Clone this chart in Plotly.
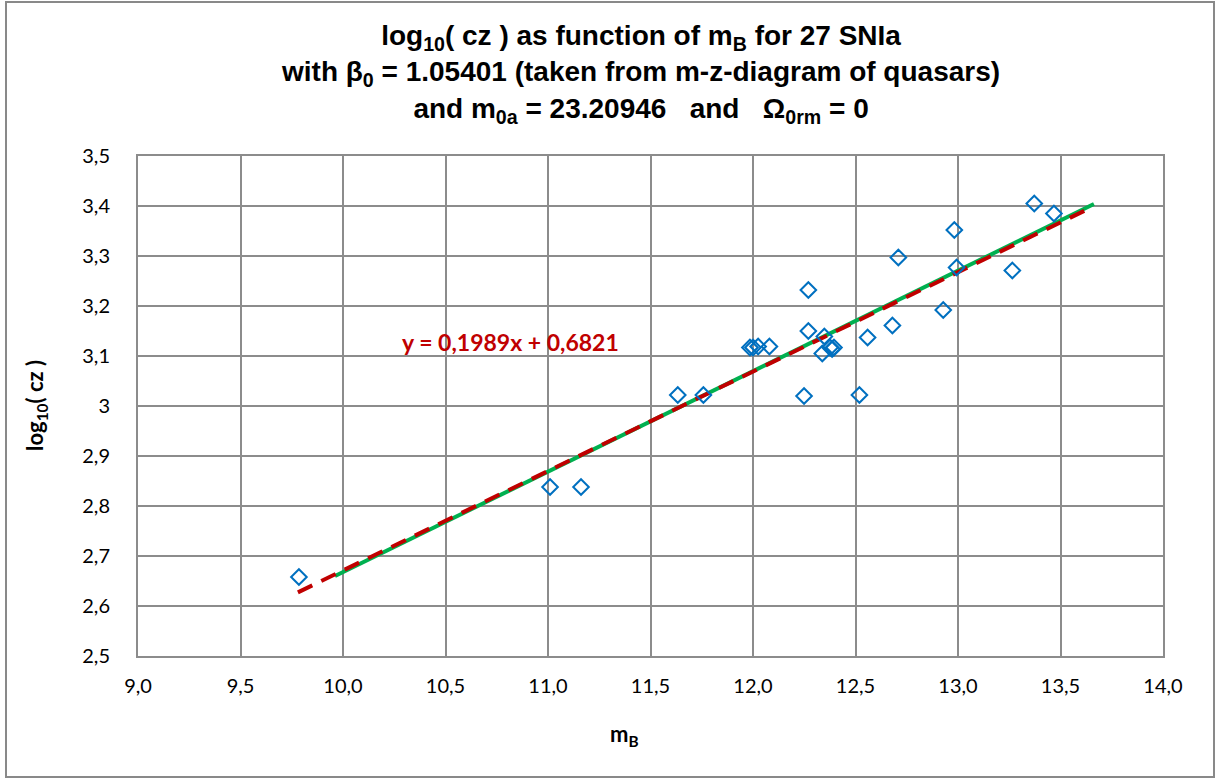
import plotly.graph_objects as go

# ---- data ----
mB = [9.785, 11.010, 11.161, 11.633, 11.758, 11.985, 12.000, 12.025, 12.080,
      12.249, 12.270, 12.270, 12.338, 12.348, 12.376, 12.386, 12.395, 12.519,
      12.559, 12.680, 12.709, 12.928, 12.982, 12.993, 13.265, 13.372, 13.468]
logcz = [2.658, 2.838, 2.838, 3.022, 3.022, 3.117, 3.117, 3.119, 3.119,
         3.020, 3.232, 3.150, 3.105, 3.139, 3.117, 3.114, 3.117, 3.022,
         3.137, 3.161, 3.297, 3.192, 3.352, 3.277, 3.271, 3.405, 3.385]

model_x = [9.961, 13.663]
model_y = [2.660, 3.404]

trend_slope = 0.1989
trend_intercept = 0.6821
trend_x = [9.78, 13.62]

x_ticks = [9.0, 9.5, 10.0, 10.5, 11.0, 11.5, 12.0, 12.5, 13.0, 13.5, 14.0]
y_ticks = [2.5, 2.6, 2.7, 2.8, 2.9, 3.0, 3.1, 3.2, 3.3, 3.4, 3.5]

trend_y = [trend_slope * v + trend_intercept for v in trend_x]

fig = go.Figure()
fig.add_trace(go.Scatter(x=model_x, y=model_y, mode="lines",
                         line=dict(color="#00B050", width=4), showlegend=False))
fig.add_trace(go.Scatter(x=trend_x, y=trend_y, mode="lines",
                         line=dict(color="#C00000", width=4, dash="16px,10px"),
                         showlegend=False))
fig.add_trace(go.Scatter(x=mB, y=logcz, mode="markers",
                         marker=dict(symbol="diamond-open", size=12, color="#0070C0",
                                     line=dict(width=2, color="#0070C0")),
                         showlegend=False))

tick_font = dict(family="Lato, Calibri, sans-serif", size=20, color="#000000")
grid_col = "#8C8C8C"

fig.update_xaxes(range=[9, 14], tickvals=x_ticks, tickformat=".1f",
                 showgrid=True, gridcolor=grid_col, gridwidth=2,
                 showline=True, linecolor=grid_col, linewidth=2, mirror=True,
                 zeroline=False, ticks="outside", ticklen=11, tickcolor="rgba(0,0,0,0)",
                 tickfont=tick_font)
fig.update_yaxes(range=[2.5, 3.5], tickvals=y_ticks,
                 showgrid=True, gridcolor=grid_col, gridwidth=2,
                 showline=True, linecolor=grid_col, linewidth=2, mirror=True,
                 zeroline=False, ticks="outside", ticklen=22, tickcolor="rgba(0,0,0,0)",
                 tickfont=tick_font)

title_text = ("<b>log<sub>10</sub>( cz ) as function of m<sub>B</sub> for 27 SNIa<br>"
              "with β<sub>0</sub> = 1.05401 (taken from m-z-diagram of quasars)<br>"
              "and m<sub>0a</sub> = 23.20946\u00a0\u00a0 and \u00a0\u00a0Ω<sub>0rm</sub> = 0</b>")

W, H = 1216, 780
L, R, T, B = 138, 53, 156, 124
pw, ph = W - L - R, H - T - B

def px(xp):
    return (xp - L) / pw

def py(yp):
    return (H - B - yp) / ph

fig.add_annotation(text=title_text, xref="paper", yref="paper",
                   x=px(640), y=py(18), xanchor="center", yanchor="top",
                   showarrow=False, align="center",
                   font=dict(family="Liberation Sans Narrow, Arial Narrow, Liberation Sans, sans-serif",
                             size=28, color="#000000"))
fig.add_annotation(text="<b>y = 0,1989x + 0,6821</b>", x=10.815, y=3.128,
                   xanchor="center", yanchor="middle", showarrow=False,
                   font=dict(family="Lato, Calibri, sans-serif", size=23, color="#C00000"))
fig.add_annotation(text="<b>log<sub>10</sub>( cz )</b>", xref="paper", yref="paper",
                   x=px(36), y=py(406), xanchor="center", yanchor="middle",
                   textangle=-90, showarrow=False,
                   font=dict(family="Lato, Calibri, sans-serif", size=22, color="#000000"))
fig.add_annotation(text="<b>m<sub>B</sub></b>", xref="paper", yref="paper",
                   x=px(624), y=py(735), xanchor="center", yanchor="middle",
                   showarrow=False,
                   font=dict(family="Lato, Calibri, sans-serif", size=22, color="#000000"))

fig.add_shape(type="rect", xref="paper", yref="paper",
              x0=px(6), x1=px(1214), y0=py(777), y1=py(2),
              line=dict(color="#898989", width=2), fillcolor="rgba(0,0,0,0)", layer="below")

fig.update_layout(width=W, height=H, margin=dict(l=L, r=R, t=T, b=B, pad=0),
                  paper_bgcolor="white", plot_bgcolor="white",
                  separators=",.", showlegend=False)

fig.write_html("out.html")
